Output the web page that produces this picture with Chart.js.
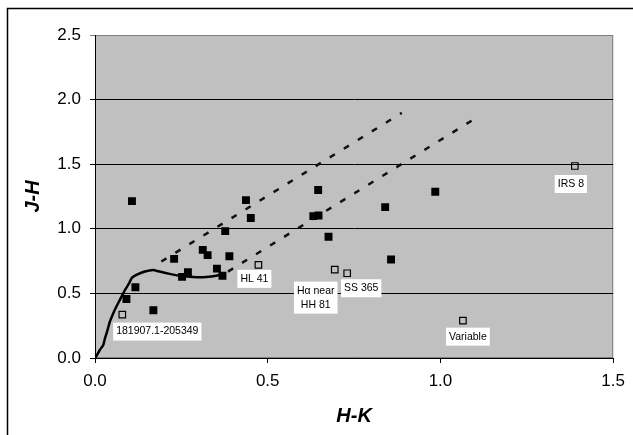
<!DOCTYPE html>
<html>
<head>
<meta charset="utf-8">
<script src="https://cdn.jsdelivr.net/npm/chart.js@4"></script>
<style>
  html, body { margin: 0; padding: 0; background: #fff; }
</style>
</head>
<body>
<canvas id="ccd" width="633" height="435"></canvas>
<script>
// ===== Data =====
const starsH = [0.107, 0.091, 0.117, 0.169, 0.229, 0.252, 0.269, 0.312, 0.326, 0.353, 0.369,
                0.377, 0.389, 0.437, 0.451, 0.646, 0.632, 0.647, 0.676, 0.840, 0.857, 0.985];
const starsJ = [1.214, 0.457, 0.548, 0.370, 0.767, 0.628, 0.664, 0.837, 0.796, 0.692, 0.636,
                0.982, 0.788, 1.222, 1.083, 1.300, 1.098, 1.103, 0.938, 1.168, 0.762, 1.287];

const namedNames = ["181907.1-205349", "HL 41", "H\u03b1 near\nHH 81", "SS 365", "Variable", "IRS 8"];
const namedH = [0.079, 0.473, 0.694, 0.730, 1.065, 1.389];
const namedJ = [0.336, 0.721, 0.684, 0.656, 0.289, 1.486];

// main-sequence locus
const locusH = [0, 0.003, 0.014, 0.024, 0.029, 0.035, 0.043, 0.053, 0.061, 0.072, 0.087, 0.099,
                0.106, 0.120, 0.144, 0.168, 0.187, 0.216, 0.245, 0.284, 0.322, 0.351, 0.375];
const locusJ = [0, 0.010, 0.062, 0.101, 0.153, 0.204, 0.281, 0.347, 0.393, 0.450, 0.527, 0.579,
                0.618, 0.643, 0.669, 0.682, 0.669, 0.651, 0.636, 0.626, 0.626, 0.636, 0.657];

// reddening vectors
const redUpperH = [0.192, 0.888];
const redUpperJ = [0.747, 1.897];
const redLowerH = [0.385, 1.100];
const redLowerJ = [0.669, 1.853];

const xTicks = [0, 0.5, 1.0, 1.5];
const yTicks = [0, 0.5, 1.0, 1.5, 2.0, 2.5];

// label box offsets from their point, in pixels
const labelShift = [[35, 17], [-4, 14], [-19, 28], [14, 15], [5, 16], [-4, 18]];

const pts = (xs, ys) => xs.map((v, i) => ({ x: v, y: ys[i] }));
const FONT = "'Liberation Sans', Arial, sans-serif";

// ===== Plugins =====
const plotFrame = {
  id: "plotFrame",
  beforeDraw(chart) {
    const { ctx, chartArea: a } = chart;
    ctx.save();
    ctx.fillStyle = "#c0c0c0";
    ctx.fillRect(a.left, a.top, a.right - a.left, a.bottom - a.top);
    ctx.strokeStyle = "#808080";
    ctx.lineWidth = 1;
    ctx.strokeRect(a.left + 0.5, a.top + 0.5, a.right - a.left - 1, a.bottom - a.top - 1);
    // outer border (top and left only visible)
    ctx.strokeStyle = "#000";
    ctx.lineWidth = 1.5;
    ctx.beginPath();
    ctx.moveTo(7.5, 435);
    ctx.lineTo(7.5, 8.5);
    ctx.lineTo(633, 8.5);
    ctx.stroke();
    ctx.restore();
  }
};

const pointLabels = {
  id: "pointLabels",
  afterDatasetsDraw(chart) {
    const { ctx, scales: { x, y } } = chart;
    ctx.save();
    ctx.font = "10.5px " + FONT;
    ctx.textAlign = "center";
    ctx.textBaseline = "middle";
    const lh = 14;
    namedNames.forEach((name, i) => {
      const lines = name.split("\n");
      const cx = x.getPixelForValue(namedH[i]) + labelShift[i][0];
      const cy = y.getPixelForValue(namedJ[i]) + labelShift[i][1];
      const w = Math.max(...lines.map(l => ctx.measureText(l).width)) + 6;
      const h = lines.length * lh + 4;
      ctx.fillStyle = "#fff";
      ctx.fillRect(cx - w / 2, cy - h / 2, w, h);
      ctx.fillStyle = "#000";
      lines.forEach((l, k) => ctx.fillText(l, cx, cy - h / 2 + 2 + lh * (k + 0.5)));
    });
    ctx.restore();
  }
};

// ===== Chart =====
new Chart(document.getElementById("ccd").getContext("2d"), {
  type: "scatter",
  data: {
    datasets: [
      {
        data: pts(starsH, starsJ),
        pointStyle: "rect",
        pointRadius: 5.6,
        backgroundColor: "#000",
        borderColor: "#000",
        borderWidth: 0
      },
      {
        data: pts(namedH, namedJ),
        pointStyle: "rect",
        pointRadius: 4.6,
        backgroundColor: "rgba(0,0,0,0)",
        borderColor: "#000",
        borderWidth: 1.2
      },
      {
        data: pts(locusH, locusJ),
        showLine: true,
        pointRadius: 0,
        borderColor: "#000",
        borderWidth: 2.5,
        tension: 0.1
      },
      {
        data: pts(redUpperH, redUpperJ),
        showLine: true,
        pointRadius: 0,
        borderColor: "#111",
        borderWidth: 2.5,
        borderDash: [6, 10.5]
      },
      {
        data: pts(redLowerH, redLowerJ),
        showLine: true,
        pointRadius: 0,
        borderColor: "#111",
        borderWidth: 2.5,
        borderDash: [6, 10.5]
      }
    ]
  },
  options: {
    responsive: false,
    animation: false,
    layout: { padding: { top: 35, right: 18, left: 0, bottom: 0 } },
    plugins: {
      legend: { display: false },
      tooltip: { enabled: false }
    },
    scales: {
      x: {
        type: "linear",
        min: 0, max: 1.5,
        afterFit: s => { s.height = 77; },
        afterBuildTicks: s => { s.ticks = xTicks.map(v => ({ value: v })); },
        ticks: { color: "#000", padding: 8, font: { family: FONT, size: 17 },
                 callback: v => v.toFixed(1) },
        grid: { drawOnChartArea: false, drawTicks: true, tickLength: 5, color: "#000" },
        border: { color: "#000", width: 1 },
        title: { display: true, text: "H-K", color: "#000", padding: { top: 0, bottom: 7 },
                 font: { family: FONT, size: 20, weight: "bold", style: "italic" } }
      },
      y: {
        type: "linear",
        min: 0, max: 2.5,
        afterFit: s => { s.width = 95; },
        afterBuildTicks: s => { s.ticks = yTicks.map(v => ({ value: v })); },
        ticks: { color: "#000", padding: 9, font: { family: FONT, size: 17 },
                 callback: v => v.toFixed(1) },
        grid: { drawTicks: true, tickLength: 5,
                color: c => (c.tick && c.tick.value === 2.5 ? "#808080" : "#000") },
        border: { color: "#000", width: 1 },
        title: { display: true, text: "J-H", color: "#000", padding: { top: 21, bottom: 0 },
                 font: { family: FONT, size: 20, weight: "bold", style: "italic" } }
      }
    }
  },
  plugins: [plotFrame, pointLabels]
});
</script>
</body>
</html>
